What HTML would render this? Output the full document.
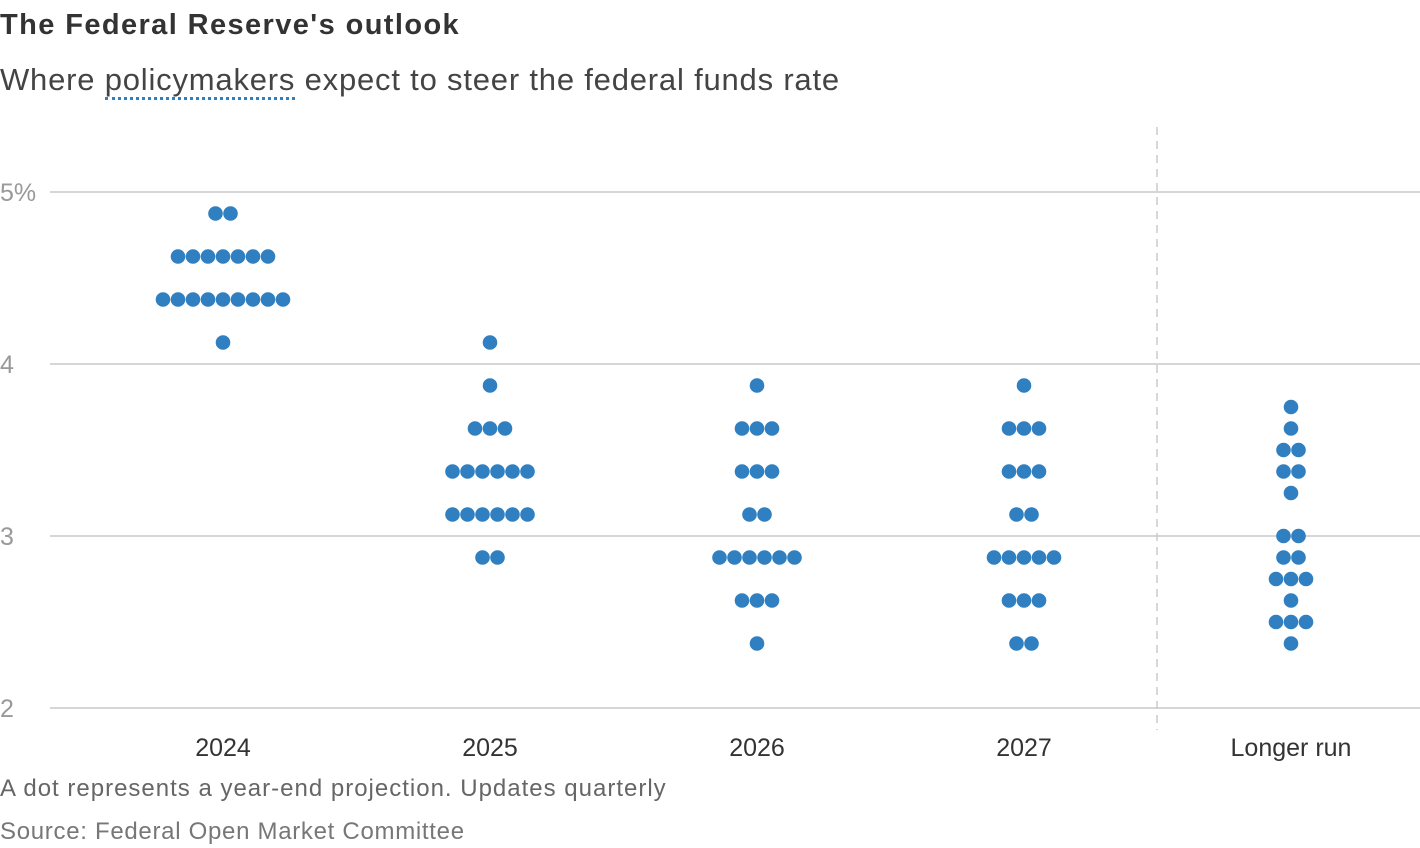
<!DOCTYPE html>
<html><head><meta charset="utf-8"><style>
body{margin:0;background:#fff;font-family:"Liberation Sans",sans-serif;}
#wrap{position:relative;width:1420px;height:848px;overflow:hidden;}
.t{position:absolute;white-space:nowrap;}
</style></head><body>
<div id="wrap">
<div class="t" style="left:0;top:9px;font-size:29px;font-weight:bold;color:#333;letter-spacing:1.4px;">The Federal Reserve's outlook</div>
<div class="t" style="left:0;top:62px;font-size:31px;color:#444;letter-spacing:0.8px;">Where <span style="border-bottom:3px dotted #2f7fc1;">policymakers</span> expect to steer the federal funds rate</div>
<svg id="plot" width="1420" height="848" style="position:absolute;left:0;top:0;"></svg>
<div class="t" style="left:0;top:775px;font-size:24px;color:#666;letter-spacing:1px;">A dot represents a year-end projection. Updates quarterly</div>
<div class="t" style="left:0;top:818px;font-size:24px;color:#777;letter-spacing:0.7px;">Source: Federal Open Market Committee</div>
</div>
<script>
const categories=["2024","2025","2026","2027","Longer run"];
const yTicks=[2,3,4,5];
const yTickLabels=["2","3","4","5%"];
const rates2024=[4.875,4.625,4.375,4.125];
const counts2024=[2,7,9,1];
const rates2025=[4.125,3.875,3.625,3.375,3.125,2.875];
const counts2025=[1,1,3,6,6,2];
const rates2026=[3.875,3.625,3.375,3.125,2.875,2.625,2.375];
const counts2026=[1,3,3,2,6,3,1];
const rates2027=[3.875,3.625,3.375,3.125,2.875,2.625,2.375];
const counts2027=[1,3,3,2,5,3,2];
const ratesLR=[3.75,3.625,3.5,3.375,3.25,3.0,2.875,2.75,2.625,2.5,2.375];
const countsLR=[1,1,2,2,1,2,2,3,1,3,1];
const seriesRates=[rates2024,rates2025,rates2026,rates2027,ratesLR];
const seriesCounts=[counts2024,counts2025,counts2026,counts2027,countsLR];

const svg=document.getElementById('plot');
const NS="http://www.w3.org/2000/svg";
const y=v=>708-(v-2)*172;
const x=i=>223+i*267;
function mk(tag,attrs){const e=document.createElementNS(NS,tag);for(const k in attrs)e.setAttribute(k,attrs[k]);svg.appendChild(e);return e;}
yTicks.forEach((t,i)=>{
  const l=mk('line',{x1:50,x2:1420,y1:y(t),y2:y(t),stroke:'#c8c8c8','stroke-width':1.5});
  
  
  const tx=mk('text',{x:0,y:y(t)+9,'font-size':25,fill:'#999','font-family':'Liberation Sans, sans-serif'});
  tx.textContent=yTickLabels[i];
  
  
});
const d=mk('line',{x1:1157,x2:1157,y1:127,y2:730,stroke:'#ccc','stroke-width':1.5,'stroke-dasharray':'8,6'});


categories.forEach((c,i)=>{
  const tx=mk('text',{x:x(i),y:756,'font-size':25,fill:'#333','text-anchor':'middle','font-family':'Liberation Sans, sans-serif'});
  tx.textContent=c;
  
  
  seriesRates[i].forEach((r,j)=>{
    const n=seriesCounts[i][j];
    for(let k=0;k<n;k++){
      const cx=x(i)+(k-(n-1)/2)*15;
      const dot=mk('circle',{cx:cx,cy:y(r),r:7.3,fill:'#2f7fc1'});
      
      
    }
  });
});
</script>
</body></html>
